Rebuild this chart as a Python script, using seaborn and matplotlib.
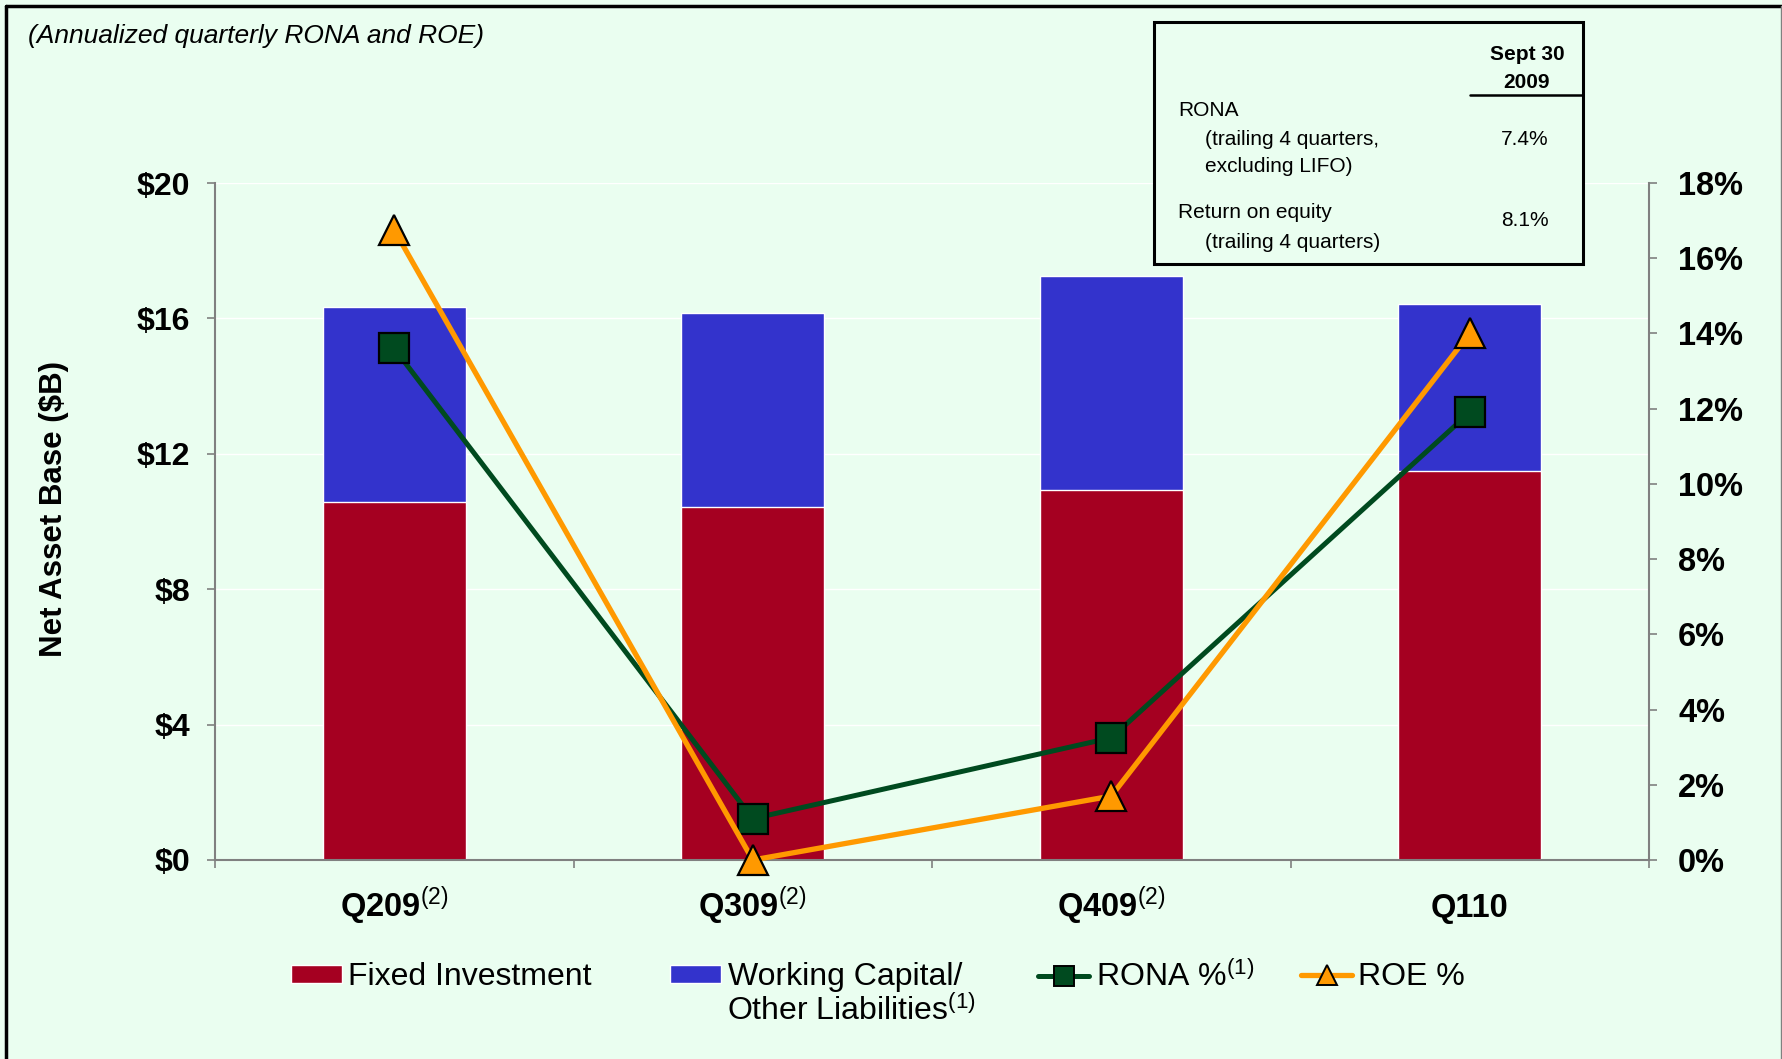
import numpy as np
import pandas as pd
import matplotlib
matplotlib.use('Agg')
import matplotlib.pyplot as plt
from matplotlib.patches import Rectangle, Patch
from matplotlib.lines import Line2D
import seaborn as sns

# data
quarters = ['Q209', 'Q309', 'Q409', 'Q110']
quarter_labels = ['Q209$^{(2)}$', 'Q309$^{(2)}$', 'Q409$^{(2)}$', 'Q110']
fixed_investment = [10.57, 10.44, 10.94, 11.48]
working_capital = [5.77, 5.73, 6.31, 4.96]
rona_pct = [13.6, 1.1, 3.25, 11.9]
roe_pct = [16.75, 0.0, 1.7, 14.0]
left_ticks = [0, 4, 8, 12, 16, 20]
right_ticks = [0, 2, 4, 6, 8, 10, 12, 14, 16, 18]

df = pd.DataFrame({'quarter': quarters,
                   'fixed': fixed_investment,
                   'wc': working_capital,
                   'rona': rona_pct,
                   'roe': roe_pct})
df['total'] = df['fixed'] + df['wc']

bg = '#EAFEF0'
red = '#A50021'
blue = '#3333CC'
green = '#004A1F'
orange = '#FF9900'
gray = '#808080'

sns.set_style('white')
plt.rcParams['font.family'] = ['Liberation Sans', 'DejaVu Sans']
plt.rcParams['text.color'] = 'black'
plt.rcParams['axes.labelcolor'] = 'black'
plt.rcParams['xtick.labelcolor'] = 'black'
plt.rcParams['ytick.labelcolor'] = 'black'
plt.rcParams['mathtext.fontset'] = 'custom'
plt.rcParams['mathtext.rm'] = 'Liberation Sans'
plt.rcParams['mathtext.it'] = 'Liberation Sans:italic'
plt.rcParams['mathtext.bf'] = 'Liberation Sans:bold'

def fx(px):
    return px / 1782

def fy(py):
    return 1 - py / 1059

fig = plt.figure(figsize=(17.82, 10.59), dpi=100, facecolor=bg)
ax = fig.add_axes([fx(215), fy(860), fx(1649) - fx(215), fy(183) - fy(860)])
ax.set_facecolor(bg)

#Stacked bars: total (blue) with fixed investment (red) on top of it
sns.barplot(data=df, x='quarter', y='total', color=blue, width=0.4, saturation=1, ax=ax)
sns.barplot(data=df, x='quarter', y='fixed', color=red, width=0.4, saturation=1, ax=ax)

ax.set_ylim(0, 20)
ax.set_yticks(left_ticks)
ax.set_yticklabels(['\\$%d' % v for v in left_ticks], fontsize=23, fontweight='bold')
ax.yaxis.grid(True, color='white', lw=1)
ax.set_axisbelow(True)
ax.set_ylabel('Net Asset Base (\\$B)', fontsize=22.5, fontweight='bold')
ax.yaxis.set_label_coords(-0.1016, 0.518)
ax.set_xlabel('')

#RONA and ROE lines on the right axis
ax2 = ax.twinx()
sns.pointplot(data=df, x='quarter', y='rona', color=green, markers='s', errorbar=None,
              markersize=21, linewidth=3.6, markeredgecolor='black', markeredgewidth=1.6,
              clip_on=False, ax=ax2)
sns.pointplot(data=df, x='quarter', y='roe', color=orange, markers='^', errorbar=None,
              markersize=21, linewidth=3.8, markeredgecolor='black', markeredgewidth=1.6,
              clip_on=False, ax=ax2)
ax2.set_ylim(0, 18)
ax2.set_yticks(right_ticks)
ax2.set_yticklabels(['%d%%' % v for v in right_ticks], fontsize=23.5, fontweight='bold')
ax2.set_ylabel('')
ax2.set_xlabel('')

#x axis: tick marks between categories, labels at the centers
ax.set_xlim(-0.5, 3.5)
ax.set_xticks([-0.5, 0.5, 1.5, 2.5, 3.5])
ax.set_xticklabels([])
ax.set_xticks(range(len(quarters)), minor=True)
ax.set_xticklabels(quarter_labels, minor=True, fontsize=23.5, fontweight='bold')
for lab in ax.get_xticklabels(minor=True):
    lab.set_verticalalignment('baseline')
ax.tick_params(axis='x', which='major', bottom=True, direction='out', length=6, color=gray, width=1.2)
ax.tick_params(axis='x', which='minor', bottom=True, length=0, pad=41)
ax.tick_params(axis='y', left=True, direction='out', length=6, color=gray, width=1.2, pad=12)
ax2.tick_params(axis='y', right=True, direction='out', length=6, color=gray, width=1.2, pad=15)

for a in (ax, ax2):
    for s in a.spines.values():
        s.set_color(gray)
        s.set_linewidth(1.5)
    a.spines['top'].set_visible(False)
ax.spines['right'].set_visible(False)
ax2.spines['left'].set_visible(False)
ax2.spines['bottom'].set_visible(False)

#Legend, one entry at a time so they sit where the reference has them
handles = [Patch(facecolor=red), Patch(facecolor=blue),
           Line2D([], [], color=green, lw=3.6, marker='s', markersize=14, mec='black', mew=1.4),
           Line2D([], [], color=orange, lw=3.8, marker='^', markersize=15, mec='black', mew=1.4)]
labels = ['Fixed Investment', 'Working Capital/', 'RONA %$^{(1)}$', 'ROE %']
legend_x = [291, 670, 1038, 1301]
for h, lab, lx in zip(handles, labels, legend_x):
    fig.legend([h], [lab], loc='center left', bbox_to_anchor=(fx(lx), fy(977)),
               frameon=False, fontsize=23, handlelength=1.6, handleheight=0.5,
               handletextpad=0.2, borderpad=0, borderaxespad=0)
fig.text(fx(727), fy(1011), 'Other Liabilities$^{(1)}$', fontsize=23, va='center', ha='left')

#Subtitle
fig.text(fx(28), fy(36), '(Annualized quarterly RONA and ROE)', fontsize=19,
         style='italic', va='center', ha='left')

#Summary table box
fig.add_artist(Rectangle((fx(1154), fy(264)), fx(1583) - fx(1154), fy(22) - fy(264),
                         transform=fig.transFigure, facecolor=bg, edgecolor='black',
                         lw=2.2, zorder=5))
fig.add_artist(Line2D([fx(1470), fx(1583)], [fy(95), fy(95)], transform=fig.transFigure,
                      color='black', lw=1.8, zorder=6))
tk = dict(fontsize=15, va='center', zorder=7)
fig.text(fx(1527), fy(55), 'Sept 30', ha='center', fontweight='bold', **tk)
fig.text(fx(1527), fy(83), '2009', ha='center', fontweight='bold', **tk)
fig.text(fx(1178), fy(110), 'RONA', ha='left', **tk)
fig.text(fx(1205), fy(139), '(trailing 4 quarters,', ha='left', **tk)
fig.text(fx(1205), fy(167), 'excluding LIFO)', ha='left', **tk)
fig.text(fx(1549), fy(139), '7.4%', ha='right', **tk)
fig.text(fx(1178), fy(212), 'Return on equity', ha='left', **tk)
fig.text(fx(1549), fy(220), '8.1%', ha='right', **tk)
fig.text(fx(1205), fy(242), '(trailing 4 quarters)', ha='left', **tk)

#Frame around the slide
fig.add_artist(Line2D([fx(6), fx(6)], [0, fy(6)], transform=fig.transFigure, color='black', lw=2.5))
fig.add_artist(Line2D([fx(6), 1], [fy(6), fy(6)], transform=fig.transFigure, color='black', lw=2.5))
fig.add_artist(Line2D([0.9995, 0.9995], [0, fy(6)], transform=fig.transFigure, color=gray, lw=1))

fig.savefig('out.png', dpi=100, facecolor=bg)
